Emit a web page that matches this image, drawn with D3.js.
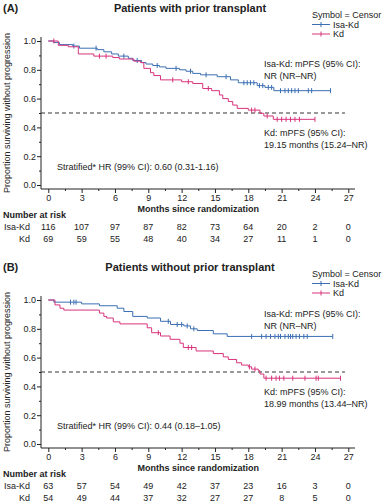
<!DOCTYPE html>
<html>
<head>
<meta charset="utf-8">
<script src="https://cdn.jsdelivr.net/npm/d3@7/dist/d3.min.js"></script>
<style>
body{margin:0;background:#fff;}
svg{font-family:"Liberation Sans",Arial,sans-serif;fill:#222;}
</style>
</head>
<body>
<svg id="chart" width="386" height="503"></svg>
<script>
/* data */
const months = [0,3,6,9,12,15,18,21,24,27];
const groups = ["Isa-Kd","Kd"];
const colors = ["#3b6fb2","#d7347c"];

// (A) prior transplant: drop times / survival after the drop
const aIsaTimes = [0.5,1.0,2.2,2.8,4.4,5.0,5.7,6.3,7.2,7.6,8.4,8.8,9.4,10.0,10.6,11.8,12.4,13.0,13.7,15.2,16.4,17.1,18.8,19.5,20.3];
const aIsaSurv  = [0.99,0.975,0.965,0.95,0.94,0.925,0.91,0.895,0.88,0.865,0.85,0.84,0.83,0.82,0.81,0.80,0.79,0.775,0.765,0.752,0.73,0.71,0.69,0.678,0.655];
const aIsaCensor = [2.3,4.3,6.8,8.0,9.8,11.5,12.8,14.2,16.0,17.6,17.9,18.2,18.5,19.0,19.3,19.8,20.1,20.9,21.3,21.6,21.9,22.2,22.5,23.4,23.7,25.4];
const aKdTimes = [0.9,1.8,2.7,4.1,5.8,6.4,7.7,8.3,8.6,9.2,9.5,10.1,12.0,13.0,13.9,14.7,15.4,15.7,16.2,16.6,17.0,18.0,19.05,19.4,20.25];
const aKdSurv  = [0.97,0.96,0.91,0.895,0.885,0.875,0.86,0.85,0.81,0.78,0.76,0.73,0.717,0.705,0.67,0.655,0.625,0.60,0.58,0.555,0.532,0.52,0.498,0.479,0.456];
const aKdCensor = [0.5,4.6,5.2,11.2,12.6,14.4,18.3,18.6,19.7,20.6,21.0,21.4,21.8,22.2,22.6,24.0];
const aRiskIsa = [116,107,97,87,82,73,64,20,2,0];
const aRiskKd  = [69,59,55,48,40,34,27,11,1,0];

// (B) no prior transplant
const bIsaTimes = [0.5,3.0,4.6,6.2,6.8,7.6,8.9,10.1,11.0,12.2,12.8,13.4,14.85,16.1];
const bIsaSurv  = [0.985,0.973,0.96,0.943,0.92,0.886,0.875,0.852,0.83,0.82,0.80,0.788,0.765,0.747];
const bIsaCensor = [2.0,2.3,2.5,10.8,11.6,12.0,12.5,13.1,18.3,19.2,19.6,20.0,20.4,20.7,20.9,21.3,21.6,21.8,22.0,22.3,22.6,23.0,23.3,25.6];
const bKdTimes = [0.6,1.05,1.4,4.6,5.0,5.25,5.85,6.45,8.9,9.3,10.1,10.96,11.85,12.15,13.3,14.85,15.75,16.2,16.95,17.4,18.0,18.3,18.9,19.05,19.4];
const bKdSurv  = [0.966,0.943,0.93,0.909,0.886,0.875,0.848,0.834,0.807,0.773,0.75,0.727,0.70,0.67,0.646,0.628,0.605,0.587,0.564,0.548,0.536,0.52,0.509,0.486,0.457];
const bKdCensor = [9.9,12.6,12.9,18.1,18.6,19.6,20.1,20.5,20.8,21.2,22.0,23.1,24.1,24.3,26.3];
const bRiskIsa = [63,57,54,49,42,37,23,16,3,0];
const bRiskKd  = [54,49,44,37,32,27,27,8,5,0];

const svg = d3.select("#chart");

function panel(top, o) {
  const g = svg.append("g").attr("transform", "translate(0," + top + ")");
  const x = d3.scaleLinear().domain([0,27]).range([48.3,348.3]);
  const y = d3.scaleLinear().domain([0,1]).range([185,41]);
  const axisY = 189;

  g.append("text").attr("x",3).attr("y",12).attr("font-size",11).attr("font-weight","bold").text(o.tag);
  g.append("text").attr("x",190).attr("y",12).attr("font-size",11).attr("font-weight","bold")
    .attr("text-anchor","middle").text(o.title);

  // axes
  const ya = g.append("g").attr("transform","translate(41,0)")
    .call(d3.axisLeft(y).tickValues(d3.range(0,1.01,0.2)).tickFormat(d3.format(".1f")).tickSize(4).tickPadding(1).tickSizeOuter(0));
  g.append("g").attr("transform","translate(41,0)")
    .call(d3.axisLeft(y).tickValues(d3.range(0.1,1,0.2)).tickFormat("").tickSize(2).tickSizeOuter(0))
    .select(".domain").remove();
  const xa = g.append("g").attr("transform","translate(0,"+axisY+")")
    .call(d3.axisBottom(x).tickValues(months).tickSize(4).tickPadding(2).tickSizeOuter(0));
  g.append("g").attr("transform","translate(0,"+axisY+")")
    .call(d3.axisBottom(x).tickValues(d3.range(1.5,27,3)).tickFormat("").tickSize(2).tickSizeOuter(0))
    .select(".domain").remove();
  ya.select(".domain").remove();
  xa.select(".domain").remove();
  g.selectAll(".tick text").attr("font-size",9).attr("font-family","Liberation Sans, Arial").attr("fill","#222");
  g.selectAll(".tick line").attr("stroke","#222");
  g.append("line").attr("x1",41).attr("x2",41).attr("y1",37).attr("y2",axisY).attr("stroke","#222");
  g.append("line").attr("x1",41).attr("x2",355).attr("y1",axisY).attr("y2",axisY).attr("stroke","#222");

  g.append("text").attr("transform","translate(10,"+((y(0)+y(1))/2)+") rotate(-90)")
    .attr("text-anchor","middle").attr("font-size",9).text("Proportion surviving without progression");
  g.append("text").attr("x",x(13.5)).attr("y",212).attr("text-anchor","middle")
    .attr("font-size",9).attr("font-weight","bold").text("Months since randomization");

  // median reference
  g.append("line").attr("x1",41).attr("x2",x(26.7)).attr("y1",y(0.5)).attr("y2",y(0.5))
    .attr("stroke","#333").attr("stroke-dasharray","4,3");

  // curves
  o.curves.forEach(function(c, i) {
    const pts = [[0,1]].concat(c.t.map(function(t,j){ return [t, c.s[j]]; }));
    pts.push([c.end, c.s[c.s.length-1]]);
    g.append("path").datum(pts).attr("fill","none").attr("stroke",colors[i]).attr("stroke-width",1)
      .attr("d", d3.line().x(function(d){return x(d[0]);}).y(function(d){return y(d[1]);}).curve(d3.curveStepAfter));
    const surv = function(t) {
      let v = 1;
      c.t.forEach(function(tt,j){ if (tt <= t) v = c.s[j]; });
      return v;
    };
    g.selectAll(null).data(c.censor).enter().append("line")
      .attr("x1",function(d){return x(d);}).attr("x2",function(d){return x(d);})
      .attr("y1",function(d){return y(surv(d))-2.5;}).attr("y2",function(d){return y(surv(d))+2.5;})
      .attr("stroke",colors[i]).attr("stroke-width",1);
  });

  // legend
  g.append("text").attr("x",312).attr("y",18).attr("font-size",9).text("Symbol = Censor");
  groups.forEach(function(name, i) {
    const ly = 24.5 + i*9.5;
    g.append("line").attr("x1",312).attr("x2",330).attr("y1",ly).attr("y2",ly).attr("stroke",colors[i]);
    g.append("line").attr("x1",321).attr("x2",321).attr("y1",ly-2.5).attr("y2",ly+2.5).attr("stroke",colors[i]);
    g.append("text").attr("x",333).attr("y",ly+3).attr("font-size",9).text(name);
  });

  // annotations
  g.append("text").attr("x",264).attr("y",o.isaY).attr("font-size",9).text("Isa-Kd: mPFS (95% CI):");
  g.append("text").attr("x",264).attr("y",o.isaY+12).attr("font-size",9).text(o.isaMed);
  g.append("text").attr("x",264).attr("y",136).attr("font-size",9).text("Kd: mPFS (95% CI):");
  g.append("text").attr("x",264).attr("y",148).attr("font-size",9).text(o.kdMed);
  g.append("text").attr("x",57).attr("y",170).attr("font-size",9).text(o.hr);

  // number at risk
  g.append("text").attr("x",3).attr("y",218).attr("font-size",9).attr("font-weight","bold").text("Number at risk");
  [o.riskIsa, o.riskKd].forEach(function(row, i) {
    const ry = 230 + i*12;
    g.append("text").attr("x",30).attr("y",ry).attr("font-size",9).attr("text-anchor","end").text(groups[i]);
    g.selectAll(null).data(row).enter().append("text")
      .attr("x",function(d,j){return x(months[j]);}).attr("y",ry)
      .attr("font-size",9).attr("text-anchor","middle").text(function(d){return d;});
  });
}

panel(0, {
  tag:"(A)", title:"Patients with prior transplant",
  curves:[{t:aIsaTimes,s:aIsaSurv,censor:aIsaCensor,end:25.4},{t:aKdTimes,s:aKdSurv,censor:aKdCensor,end:24.0}],
  isaY:67, isaMed:"NR (NR\u2013NR)", kdMed:"19.15 months (15.24\u2013NR)",
  hr:"Stratified* HR (99% CI): 0.60 (0.31-1.16)",
  riskIsa:aRiskIsa, riskKd:aRiskKd
});
panel(259, {
  tag:"(B)", title:"Patients without prior transplant",
  curves:[{t:bIsaTimes,s:bIsaSurv,censor:bIsaCensor,end:25.6},{t:bKdTimes,s:bKdSurv,censor:bKdCensor,end:26.3}],
  isaY:58, isaMed:"NR (NR\u2013NR)", kdMed:"18.99 months (13.44\u2013NR)",
  hr:"Stratified* HR (99% CI): 0.44 (0.18\u20131.05)",
  riskIsa:bRiskIsa, riskKd:bRiskKd
});
</script>
</body>
</html>
